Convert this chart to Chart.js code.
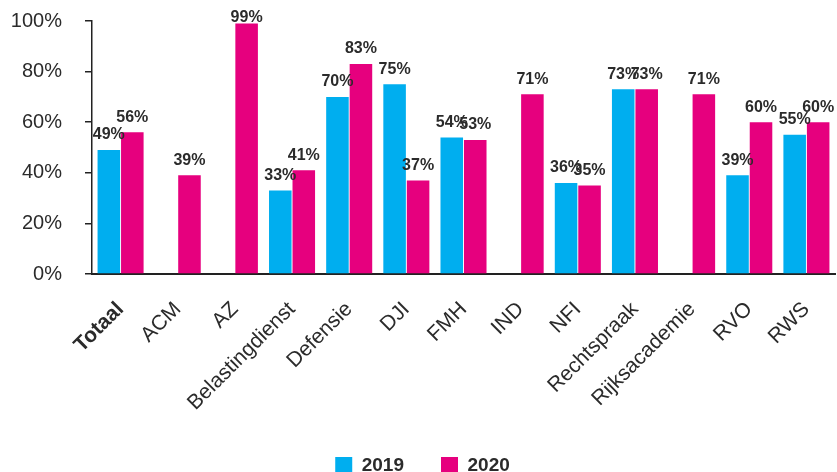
<!DOCTYPE html>
<html>
<head>
<meta charset="utf-8">
<script src="https://cdn.jsdelivr.net/npm/chart.js@4.4.1/dist/chart.umd.min.js"></script>
<style>
    html, body { margin: 0; padding: 0; background: #fff; }
    #wrap { width: 837px; height: 472px; position: relative; }
</style>
</head>
<body>
<div id="wrap"><canvas id="chart"></canvas></div>
<script>
const categories = ["Totaal", "ACM", "AZ", "Belastingdienst", "Defensie", "DJI", "FMH", "IND", "NFI", "Rechtspraak", "Rijksacademie", "RVO", "RWS"];
const values2019 = [49, null, null, 33, 70, 75, 54, null, 36, 73, null, 39, 55];
const values2020 = [56, 39, 99, 41, 83, 37, 53, 71, 35, 73, 71, 60, 60];
const yTicks = [0, 20, 40, 60, 80, 100];

const BLUE = "#00aeef";
const PINK = "#e6007e";
const TEXT = "#2b2b2b";
const FONT = "'Liberation Sans', Arial, Helvetica, sans-serif";

// value labels above each bar
const valueLabels = {
    id: "valueLabels",
    afterDatasetsDraw(chart) {
        const ctx = chart.ctx;
        ctx.save();
        ctx.font = `bold 16px ${FONT}`;
        ctx.fillStyle = TEXT;
        ctx.textAlign = "center";
        ctx.textBaseline = "bottom";
        chart.data.datasets.forEach((ds, i) => {
            chart.getDatasetMeta(i).data.forEach((bar, j) => {
                const v = ds.data[j];
                if (v == null) return;
                ctx.fillText(v + "%", bar.x, Math.max(bar.y - 7, 26));
            });
        });
        ctx.restore();
    }
};

new Chart(document.getElementById("chart"), {
    type: "bar",
    data: {
        labels: categories,
        datasets: [
            { label: "2019", data: values2019, backgroundColor: BLUE },
            { label: "2020", data: values2020, backgroundColor: PINK },
        ]
    },
    options: {
        responsive: true,
        maintainAspectRatio: false,
        animation: false,
        categoryPercentage: 0.822,
        barPercentage: 0.96,
        layout: { padding: { top: 21, right: 2, left: 10, bottom: -13 } },
        plugins: {
            tooltip: { enabled: false },
            legend: {
                position: "bottom",
                labels: {
                    color: TEXT,
                    font: { family: FONT, size: 19, weight: "bold" },
                    boxWidth: 17,
                    boxHeight: 17,
                    padding: 37,
                }
            }
        },
        scales: {
            x: {
                grid: { display: false, drawTicks: false },
                border: { color: "#222", width: 2 },
                ticks: {
                    color: TEXT,
                    maxRotation: 45,
                    minRotation: 45,
                    padding: 23,
                    font: (c) => ({ family: FONT, size: 21, weight: c.index === 0 ? "bold" : "normal" }),
                },
                afterFit(scale) {
                    scale.height = 145;
                    scale.paddingLeft = 0;
                    scale.paddingRight = 0;
                }
            },
            y: {
                min: 0,
                max: 100,
                afterBuildTicks(scale) { scale.ticks = yTicks.map(v => ({ value: v })); },
                grid: { drawOnChartArea: false, tickLength: 7, color: "#222", lineWidth: 1.5 },
                border: { color: "#222", width: 1.5 },
                ticks: {
                    color: TEXT,
                    padding: 23,
                    font: { family: FONT, size: 20 },
                    callback: (v) => v + "%",
                },
                afterFit(scale) {
                    scale.width = 82;
                    scale.paddingTop = 0;
                    scale.paddingBottom = 0;
                }
            }
        }
    },
    plugins: [valueLabels]
});
</script>
</body>
</html>
